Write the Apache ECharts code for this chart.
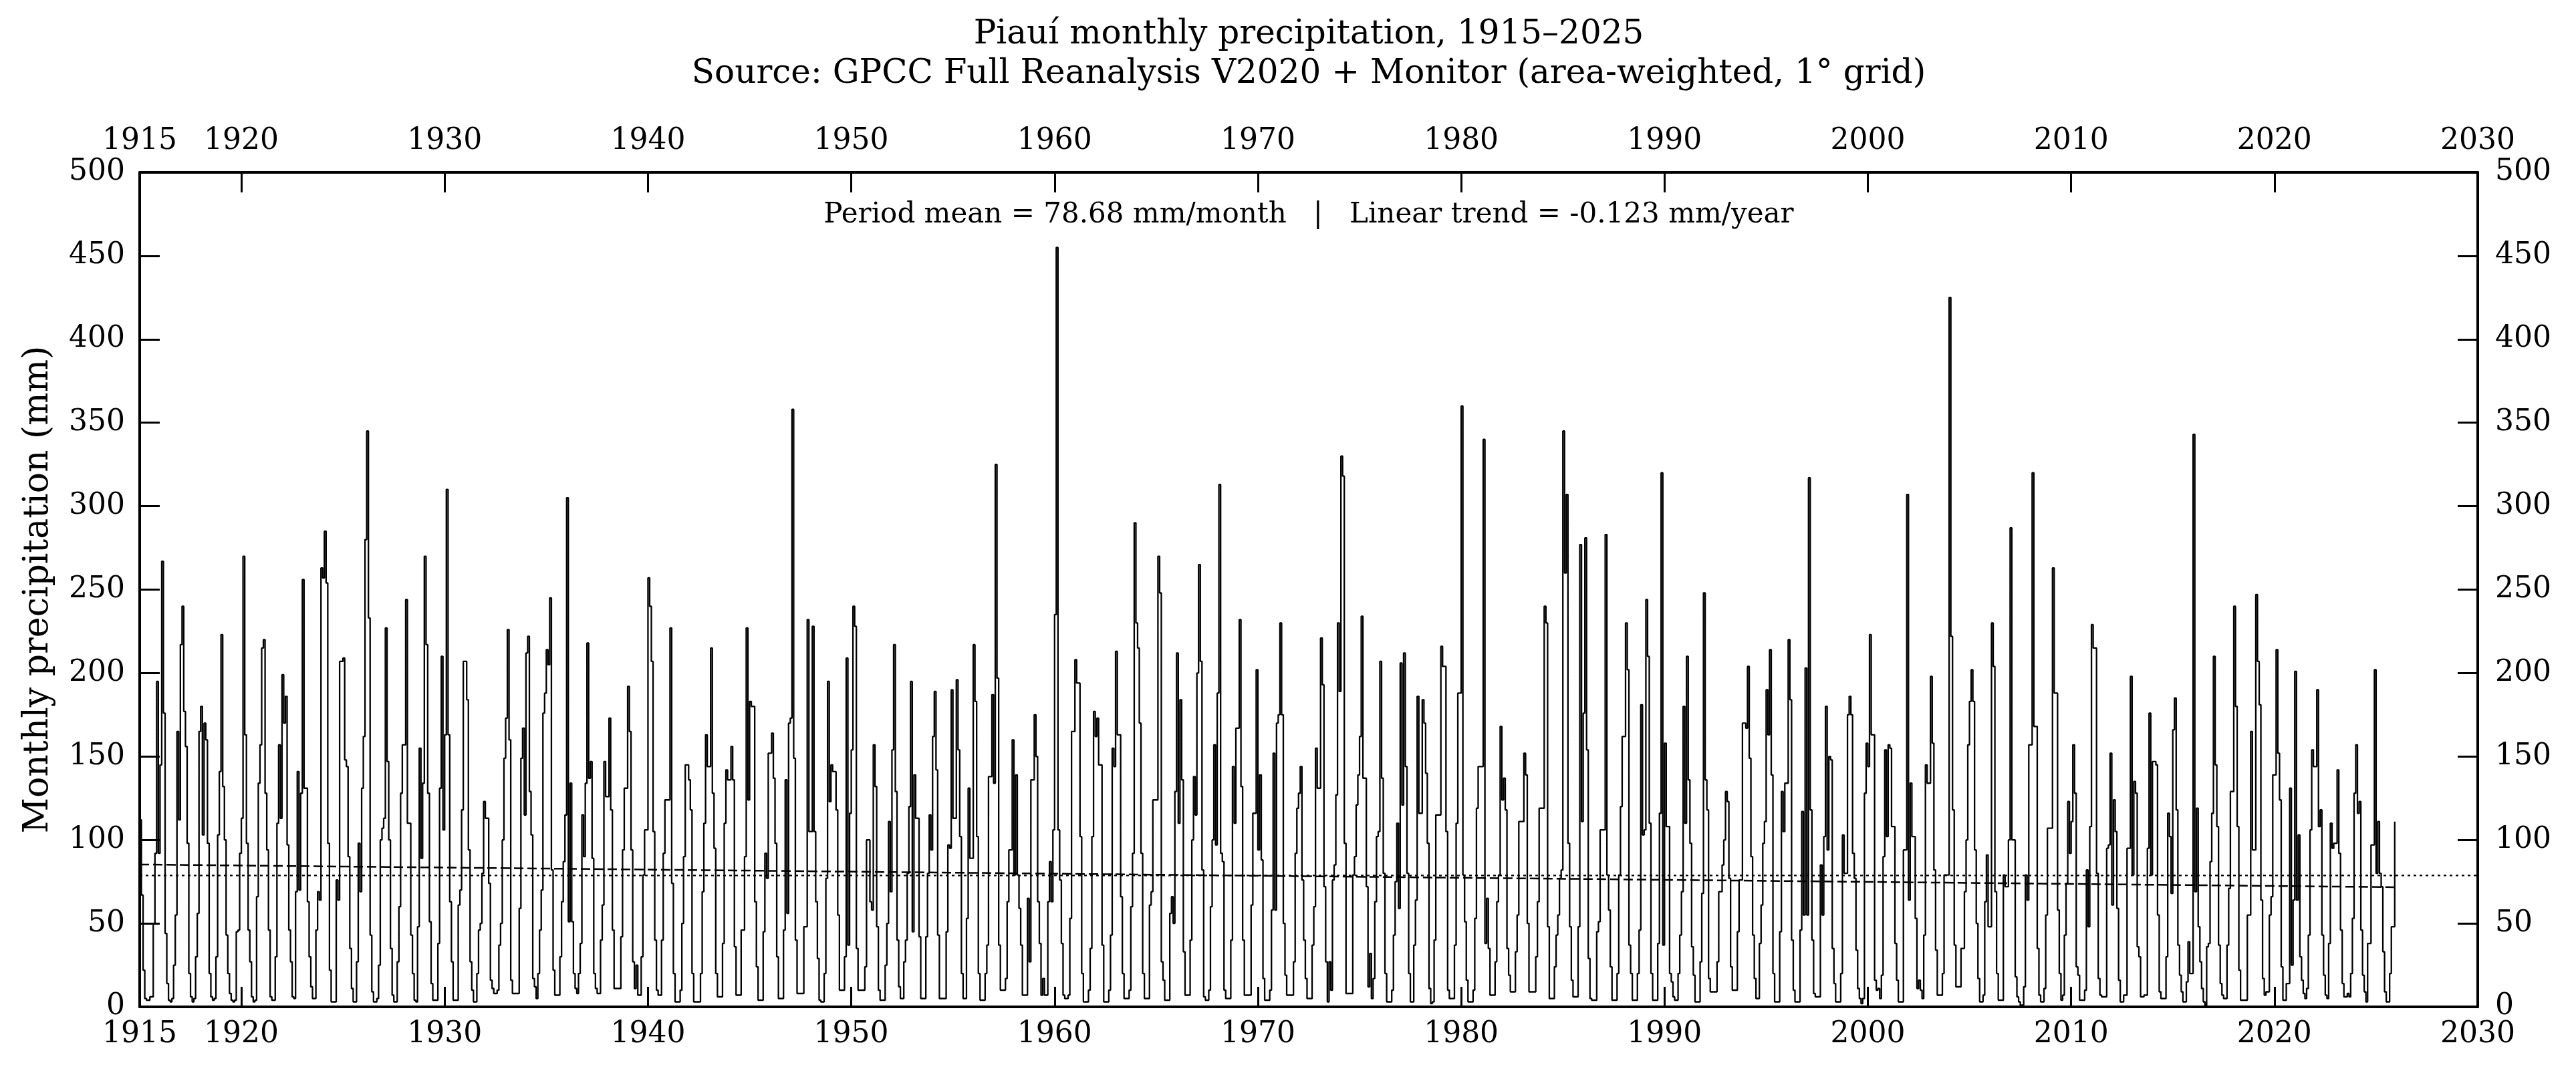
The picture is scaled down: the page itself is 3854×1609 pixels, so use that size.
<!DOCTYPE html>
<html>
<head>
<meta charset="utf-8">
<title>Piauí monthly precipitation, 1915–2025</title>
<script src="https://cdn.jsdelivr.net/npm/echarts@6/dist/echarts.min.js"></script>
<style>
  html, body { margin: 0; padding: 0; background: #fff; }
  #chart { width: 3854px; height: 1609px; }
</style>
</head>
<body>
<div id="chart"></div>
<script>
// monthly precipitation (mm), Jan..Dec, one row per year
var p1915 = [
  112, 67, 22, 5, 4, 4, 6, 6, 50, 92, 195, 92,
  145, 267, 176, 44, 14, 4, 3, 5, 25, 55, 165, 112,
  217, 240, 177, 156, 98, 20, 6, 3, 5, 30, 56, 165,
  180, 103, 170, 160, 98, 20, 6, 4, 5, 30, 103, 141,
  223, 132, 100, 43, 20, 8, 4, 3, 4, 45, 46, 92
];
var p1920 = [
  113, 270, 163, 98, 46, 27, 6, 3, 4, 66, 134, 157,
  215, 220, 128, 94, 46, 6, 4, 4, 30, 110, 157, 113,
  199, 170, 186, 97, 46, 27, 6, 5, 69, 141, 70, 128,
  256, 131, 131, 63, 30, 12, 5, 5, 46, 69, 64, 263,
  257, 285, 254, 98, 22, 3, 3, 3, 76, 64, 207, 207,
  209, 148, 144, 90, 35, 11, 3, 3, 27, 98, 69, 131,
  162, 280, 345, 233, 43, 9, 3, 3, 5, 25, 100, 107,
  113, 227, 147, 100, 35, 7, 3, 3, 27, 60, 128, 157,
  157, 244, 110, 110, 43, 20, 4, 3, 48, 155, 89, 134,
  270, 217, 128, 51, 14, 4, 4, 4, 38, 131, 210, 106
];
var p1930 = [
  163, 310, 163, 63, 27, 4, 4, 4, 61, 70, 118, 207,
  207, 184, 94, 27, 10, 3, 3, 20, 46, 50, 80, 123,
  113, 113, 74, 16, 11, 8, 8, 10, 37, 50, 100, 149,
  173, 226, 160, 16, 8, 8, 8, 8, 59, 149, 167, 115,
  212, 222, 129, 103, 17, 12, 5, 20, 46, 70, 176, 188,
  214, 205, 245, 82, 22, 7, 7, 7, 30, 63, 87, 115,
  305, 51, 134, 51, 20, 11, 8, 20, 38, 115, 90, 134,
  218, 137, 147, 89, 20, 11, 8, 8, 40, 61, 147, 126,
  126, 173, 118, 46, 11, 11, 11, 11, 42, 94, 131, 131,
  192, 165, 94, 27, 11, 25, 7, 7, 30, 79, 106, 106
];
var p1940 = [
  257, 240, 207, 105, 40, 10, 7, 7, 40, 92, 124, 124,
  124, 227, 74, 20, 3, 3, 3, 10, 50, 90, 145, 145,
  136, 118, 20, 3, 3, 3, 3, 20, 69, 110, 163, 144,
  144, 215, 128, 95, 20, 6, 6, 6, 38, 110, 142, 136,
  136, 156, 136, 36, 7, 7, 7, 46, 46, 90, 227, 124,
  183, 180, 180, 63, 24, 4, 4, 4, 45, 92, 77, 152,
  152, 164, 137, 98, 30, 5, 5, 5, 46, 136, 56, 170,
  173, 358, 149, 40, 8, 8, 8, 8, 48, 48, 232, 105,
  105, 228, 105, 63, 29, 4, 3, 3, 20, 77, 195, 123,
  145, 141, 141, 118, 55, 10, 10, 10, 30, 209, 37, 116
];
var p1950 = [
  154, 240, 228, 35, 10, 10, 10, 10, 24, 100, 100, 63,
  58, 157, 132, 48, 10, 4, 4, 4, 25, 50, 111, 69,
  154, 217, 129, 40, 12, 5, 5, 27, 40, 80, 120, 195,
  45, 139, 113, 113, 42, 5, 5, 5, 42, 80, 115, 94,
  162, 189, 142, 43, 5, 5, 5, 5, 45, 97, 95, 190,
  113, 113, 196, 154, 102, 20, 5, 5, 53, 131, 89, 89,
  217, 183, 102, 20, 4, 4, 4, 20, 37, 138, 138, 187,
  134, 325, 197, 37, 10, 10, 10, 17, 63, 94, 94, 160,
  79, 139, 79, 59, 37, 7, 7, 7, 65, 27, 136, 136,
  175, 150, 63, 38, 7, 17, 7, 7, 63, 87, 63, 106
];
var p1960 = [
  235, 455, 106, 76, 38, 7, 5, 5, 7, 53, 165, 165,
  208, 194, 194, 102, 20, 3, 3, 3, 10, 35, 102, 177,
  162, 173, 145, 145, 37, 3, 3, 3, 10, 43, 155, 144,
  213, 163, 163, 66, 20, 5, 5, 5, 10, 60, 92, 290,
  230, 215, 170, 92, 20, 5, 5, 5, 61, 69, 124, 124,
  124, 270, 248, 27, 16, 4, 4, 4, 56, 66, 50, 129,
  212, 110, 184, 136, 33, 7, 7, 7, 40, 100, 138, 115,
  200, 265, 207, 82, 6, 4, 4, 10, 60, 100, 157, 97,
  188, 313, 92, 87, 10, 5, 5, 5, 40, 144, 110, 167,
  167, 232, 132, 40, 7, 7, 7, 7, 61, 116, 116, 202
];
var p1970 = [
  94, 139, 88, 17, 4, 4, 4, 10, 58, 152, 58, 170,
  175, 230, 175, 50, 19, 7, 7, 7, 7, 27, 92, 119,
  128, 144, 76, 40, 17, 5, 5, 5, 37, 60, 155, 131,
  131, 221, 193, 72, 27, 3, 27, 10, 76, 85, 127, 230,
  189, 330, 318, 98, 8, 8, 8, 8, 79, 90, 121, 139,
  162, 234, 137, 137, 72, 12, 32, 5, 17, 63, 102, 105,
  207, 137, 80, 20, 3, 3, 3, 10, 43, 75, 110, 59,
  206, 121, 212, 144, 80, 20, 3, 3, 37, 64, 186, 116,
  116, 184, 170, 140, 98, 11, 2, 3, 40, 115, 115, 115,
  216, 204, 204, 105, 10, 5, 5, 5, 37, 110, 188, 188
];
var p1980 = [
  360, 79, 51, 16, 3, 3, 3, 10, 53, 119, 144, 144,
  144, 340, 38, 65, 35, 7, 7, 7, 27, 63, 79, 168,
  124, 137, 118, 35, 19, 9, 9, 9, 33, 55, 111, 111,
  111, 152, 139, 50, 9, 9, 9, 9, 30, 63, 119, 119,
  119, 240, 230, 48, 5, 5, 5, 24, 43, 55, 77, 82,
  345, 260, 307, 98, 48, 16, 6, 6, 6, 48, 277, 111,
  176, 281, 154, 29, 5, 4, 4, 4, 45, 51, 106, 106,
  106, 283, 79, 58, 24, 4, 4, 4, 20, 79, 120, 162,
  162, 230, 202, 37, 20, 4, 4, 4, 20, 46, 181, 103,
  106, 244, 210, 110, 20, 4, 4, 4, 38, 116, 320, 37
];
var p1990 = [
  158, 108, 108, 20, 15, 6, 4, 4, 20, 43, 69, 180,
  110, 210, 136, 98, 36, 19, 3, 3, 3, 27, 68, 248,
  136, 118, 17, 9, 9, 9, 9, 27, 69, 69, 85, 100,
  129, 123, 77, 24, 10, 10, 10, 45, 76, 76, 170, 170,
  167, 204, 149, 90, 43, 17, 5, 5, 38, 61, 98, 111,
  190, 163, 214, 139, 20, 3, 3, 3, 45, 129, 105, 134,
  134, 220, 184, 40, 10, 3, 3, 3, 46, 117, 55, 203,
  55, 317, 118, 40, 8, 6, 6, 6, 85, 55, 102, 180,
  94, 150, 148, 35, 14, 3, 3, 3, 20, 103, 80, 80,
  175, 186, 175, 92, 77, 34, 11, 5, 2, 5, 128, 158
];
var p2000 = [
  144, 223, 163, 163, 16, 10, 11, 5, 19, 90, 154, 102,
  157, 155, 108, 108, 38, 16, 3, 3, 3, 94, 94, 307,
  64, 134, 102, 102, 53, 11, 16, 10, 5, 43, 145, 134,
  134, 198, 158, 82, 34, 7, 7, 7, 20, 79, 79, 79,
  425, 222, 118, 37, 12, 12, 12, 35, 35, 69, 100, 157,
  183, 202, 183, 94, 50, 17, 3, 3, 7, 63, 91, 48,
  48, 230, 204, 69, 20, 4, 4, 4, 79, 72, 72, 100,
  287, 100, 100, 18, 6, 3, 1, 1, 12, 79, 64, 157,
  157, 320, 168, 168, 35, 7, 3, 3, 11, 55, 107, 107,
  107, 263, 188, 188, 58, 20, 4, 7, 43, 74, 123, 92
];
var p2010 = [
  111, 157, 128, 24, 19, 4, 4, 4, 10, 82, 48, 108,
  229, 215, 215, 80, 17, 7, 6, 6, 6, 95, 97, 152,
  61, 124, 105, 59, 16, 3, 3, 7, 7, 95, 95, 198,
  79, 135, 128, 36, 30, 6, 6, 7, 7, 95, 176, 79,
  147, 147, 145, 55, 9, 5, 5, 5, 30, 116, 102, 68,
  166, 185, 118, 37, 19, 9, 3, 3, 15, 39, 20, 20,
  343, 69, 119, 48, 27, 11, 3, 1, 36, 38, 87, 116,
  210, 145, 108, 37, 14, 7, 5, 5, 37, 71, 129, 129,
  240, 180, 108, 22, 4, 4, 4, 4, 55, 55, 165, 94,
  94, 247, 207, 181, 64, 17, 7, 9, 9, 55, 66, 139
];
var p2020 = [
  139, 214, 152, 124, 24, 4, 4, 14, 14, 131, 25, 64,
  201, 64, 103, 30, 16, 8, 5, 11, 43, 106, 154, 144,
  144, 190, 108, 118, 43, 19, 7, 5, 38, 110, 95, 98,
  98, 142, 92, 46, 14, 6, 6, 8, 6, 20, 53, 128,
  157, 116, 123, 46, 19, 9, 3, 38, 38, 97, 97, 202,
  80, 111, 80, 72, 33, 9, 3, 3, 20, 48, 48, 111
];

var startYear = 1915;
var xTicks = [1915, 1920, 1930, 1940, 1950, 1960, 1970, 1980, 1990, 2000, 2010, 2020, 2030];
var yTicks = [0, 50, 100, 150, 200, 250, 300, 350, 400, 450, 500];
var meanValue = 78.68;
var trendYears = [1915, 2025.917];
var trendValues = [85.3, 71.7];

var monthly = [].concat(p1915, p1920, p1930, p1940, p1950, p1960, p1970, p1980, p1990, p2000, p2010, p2020);
var points = [];
for (var i = 0; i < monthly.length; i++) {
  points.push([startYear + i / 12, monthly[i]]);
}

var font = 'DejaVu Serif';
var chart = echarts.init(document.getElementById('chart'), null, { renderer: 'canvas' });

function plain(v) { return String(v); }

function xAxisCfg(pos, margin) {
  return {
    type: 'value', position: pos, min: 1915, max: 2030,
    axisLine: { show: true, onZero: false, lineStyle: { color: '#000', width: 4 } },
    axisTick: { show: true, inside: true, length: 30, lineStyle: { color: '#000', width: 3 }, customValues: xTicks },
    axisLabel: { show: true, customValues: xTicks, formatter: plain, margin: margin, color: '#000', fontFamily: font, fontSize: 44 },
    splitLine: { show: false }
  };
}
function yAxisCfg(pos, margin) {
  return {
    type: 'value', position: pos, min: yTicks[0], max: yTicks[yTicks.length - 1], interval: 50,
    axisLine: { show: true, onZero: false, lineStyle: { color: '#000', width: 4 } },
    axisTick: { show: true, inside: true, length: 30, lineStyle: { color: '#000', width: 3 } },
    axisLabel: { show: true, formatter: plain, margin: margin, color: '#000', fontFamily: font, fontSize: 44 },
    splitLine: { show: false }
  };
}

var yLeft = yAxisCfg('left', 22);
yLeft.name = 'Monthly precipitation (mm)';
yLeft.nameLocation = 'middle';
yLeft.nameGap = 126;
yLeft.nameTextStyle = { color: '#000', fontFamily: font, fontSize: 52 };

var option = {
  animation: false,
  backgroundColor: '#fff',
  grid: { left: 209, right: 147, top: 258, bottom: 102, containLabel: false },
  xAxis: [xAxisCfg('bottom', 20), xAxisCfg('top', 24)],
  yAxis: [yLeft, yAxisCfg('right', 26)],
  graphic: [
    { type: 'text', x: 1958, y: 52, style: { text: 'Piauí monthly precipitation, 1915–2025', fill: '#000', font: '50px "DejaVu Serif"', align: 'center', verticalAlign: 'middle' } },
    { type: 'text', x: 1958, y: 111, style: { text: 'Source: GPCC Full Reanalysis V2020 + Monitor (area-weighted, 1° grid)', fill: '#000', font: '50px "DejaVu Serif"', align: 'center', verticalAlign: 'middle' } },
    { type: 'text', x: 1958, y: 322, style: { text: 'Period mean = 78.68 mm/month   |   Linear trend = -0.123 mm/year', fill: '#000', font: '42px "DejaVu Serif"', align: 'center', verticalAlign: 'middle' } }
  ],
  series: [
    {
      type: 'line', step: 'end', data: points, showSymbol: false, symbol: 'none',
      lineStyle: { color: '#000', width: 2.3 }, z: 3
    },
    {
      type: 'line', data: [[1915, meanValue], [2030, meanValue]], showSymbol: false, symbol: 'none',
      lineStyle: { color: '#000', width: 2.2, type: [4, 5] }, z: 4
    },
    {
      type: 'line', data: [[trendYears[0], trendValues[0]], [trendYears[1], trendValues[1]]], showSymbol: false, symbol: 'none',
      lineStyle: { color: '#000', width: 2.5, type: [14, 6] }, z: 4
    }
  ]
};

chart.setOption(option);
</script>
</body>
</html>
